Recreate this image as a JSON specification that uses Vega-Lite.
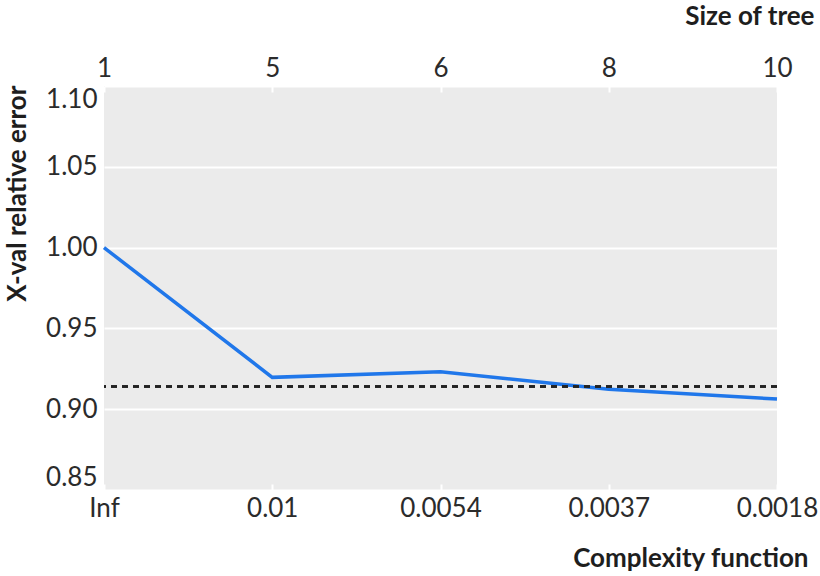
{
  "$schema": "https://vega.github.io/schema/vega-lite/v6.json",
  "width": 673,
  "height": 404,
  "autosize": "none",
  "padding": {"left": 104, "top": 86, "right": 43, "bottom": 86},
  "background": "white",
  "config": {
    "font": "Lato",
    "view": {"fill": "#ebebeb", "stroke": null},
    "axis": {
      "labelFont": "Lato",
      "titleFont": "Lato",
      "labelFontSize": 26,
      "labelColor": "#2b2b2b",
      "titleColor": "#1e1e1e",
      "titleFontSize": 26,
      "titleFontWeight": "bold",
      "domain": false
    }
  },
  "data": {
    "values": [
      {"cp": "Inf", "size": 1, "err": 1.0},
      {"cp": "0.01", "size": 5, "err": 0.9197},
      {"cp": "0.0054", "size": 6, "err": 0.9232},
      {"cp": "0.0037", "size": 8, "err": 0.9123},
      {"cp": "0.0018", "size": 10, "err": 0.9063}
    ]
  },
  "layer": [
    {
      "mark": {"type": "line", "color": "#2077ea", "strokeWidth": 3.5},
      "encoding": {
        "x": {
          "field": "cp",
          "type": "ordinal",
          "sort": null,
          "scale": {"type": "point", "padding": 0},
          "axis": {
            "orient": "bottom",
            "title": "Complexity function",
            "labelAngle": 0,
            "tickColor": "white",
            "tickWidth": 2,
            "tickSize": -6,
            "labelPadding": 24,
            "labelBaseline": "middle",
            "grid": false,
            "titleX": 704,
            "titleY": 68,
            "titleAlign": "right",
            "titleBaseline": "middle"
          }
        },
        "y": {
          "field": "err",
          "type": "quantitative",
          "scale": {"domain": [0.85, 1.1], "zero": false, "nice": false},
          "axis": {
            "title": "X-val relative error",
            "values": [0.85, 0.9, 0.95, 1.0, 1.05, 1.1],
            "format": ".2f",
            "ticks": false,
            "labelPadding": 7,
            "labelFlush": true,
            "grid": true,
            "gridColor": "white",
            "gridWidth": 2,
            "titleX": -87,
            "titleY": -1,
            "titleAngle": 270,
            "titleAlign": "right",
            "titleBaseline": "middle"
          }
        }
      }
    },
    {
      "mark": {"type": "rule", "color": "#222222", "strokeWidth": 2, "strokeDash": [6, 5]},
      "encoding": {"y": {"datum": 0.914}}
    },
    {
      "mark": {"type": "point", "opacity": 0},
      "encoding": {
        "x": {
          "field": "size",
          "type": "ordinal",
          "scale": {"type": "point", "padding": 0},
          "axis": {
            "orient": "top",
            "title": "Size of tree",
            "labelAngle": 0,
            "tickColor": "white",
            "tickWidth": 2,
            "tickSize": -6,
            "labelPadding": 24,
            "labelBaseline": "middle",
            "grid": false,
            "titleX": 710,
            "titleY": -70,
            "titleAlign": "right",
            "titleBaseline": "middle"
          }
        },
        "y": {"field": "err", "type": "quantitative"}
      }
    }
  ],
  "resolve": {"scale": {"x": "independent"}}
}
